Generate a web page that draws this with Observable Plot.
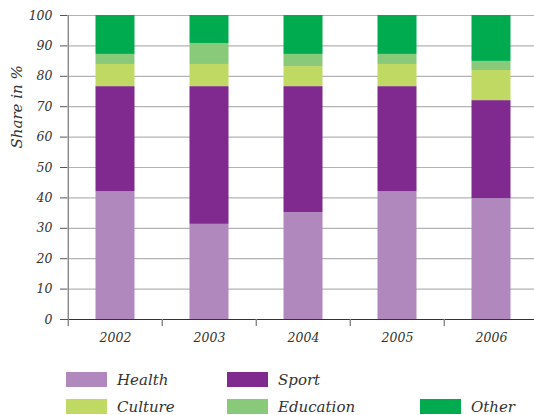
<!DOCTYPE html>
<html>
<head>
<meta charset="utf-8">
<script src="https://cdn.jsdelivr.net/npm/d3@7"></script>
<script src="https://cdn.jsdelivr.net/npm/@observablehq/plot@0.6"></script>
<style>
  html, body { margin: 0; padding: 0; background: #fff; }
  #chart svg { display: block; }
  #legend { position: relative; width: 534px; height: 55px; font-family: "DejaVu Serif", serif; font-style: italic; font-size: 15px; color: #333; }
  .item { position: absolute; display: flex; align-items: center; height: 15px; }
  .sw { width: 41px; height: 15px; margin-right: 10px; }
</style>
</head>
<body>
<div id="chart"></div>
<div id="legend"></div>
<script>
const years = ["2002", "2003", "2004", "2005", "2006"];
const categories = ["Health", "Sport", "Culture", "Education", "Other"];
const colors = ["#b088bd", "#80298f", "#bfd962", "#88c97a", "#00aa4e"];
const health    = [42.1, 31.3, 35.2, 42.1, 39.8];
const sport     = [34.5, 45.3, 41.4, 34.5, 32.2];
const culture   = [7.3, 7.3, 6.6, 7.3, 9.9];
const education = [3.3, 6.9, 4.0, 3.3, 3.0];
const other     = [12.8, 9.2, 12.8, 12.8, 15.1];
const yTicks = [0, 10, 20, 30, 40, 50, 60, 70, 80, 90, 100];

const series = [health, sport, culture, education, other];
const rows = [];
years.forEach((yr, i) => {
  categories.forEach((c, k) => rows.push({year: yr, category: c, value: series[k][i]}));
});

const W = 534, H = 360, ML = 67, MT = 15, MB = 41;
const xRange = [ML, 539];
const step = (xRange[1] - xRange[0]) / years.length;
const font = "DejaVu Serif, serif";

const plot = Plot.plot({
  width: W,
  height: H,
  marginLeft: ML,
  marginRight: 0,
  marginTop: MT,
  marginBottom: MB,
  style: { fontFamily: font, background: "#fff" },
  x: { type: "band", domain: years, range: xRange, padding: 0, label: null },
  y: { domain: [0, 100], label: null },
  color: { domain: categories, range: colors },
  marks: [
    Plot.ruleY(yTicks.filter(d => d > 0), { stroke: "#b3b3b3", strokeWidth: 1.2 }),
    Plot.barY(rows, { x: "year", y: "value", fill: "category", insetLeft: 27.5, insetRight: 27.5 }),
    Plot.ruleY([0], { stroke: "#333", strokeWidth: 1.2 }),
    Plot.ruleX([years[0]], { x: d => d, dx: -step / 2, y1: 100, y2: 0, insetBottom: -7, stroke: "#888", strokeWidth: 1.4 }),
    Plot.ruleX(years.slice(1), { x: d => d, dx: -step / 2, y1: 0, y2: 0, insetBottom: -7, stroke: "#888", strokeWidth: 1.4 }),
    Plot.axisY({ ticks: yTicks, tickSize: 7, tickPadding: 8, stroke: "#555", fontSize: 12.5, fontStyle: "italic", fill: "#333", label: null }),
    Plot.axisX({ tickSize: 0, tickPadding: 14, fontSize: 12.5, fontStyle: "italic", fill: "#333", label: null }),
    Plot.text(["Share in %"], { frameAnchor: "left", dx: -50, dy: -19, rotate: -90, fontSize: 15, fontStyle: "italic", fill: "#333", text: d => d })
  ]
});
document.getElementById("chart").appendChild(plot);

// Legend layout (styling only)
const legendPos = [[66, 12], [227, 12], [66, 39], [227, 39], [420, 39]];
const legend = document.getElementById("legend");
categories.forEach((c, i) => {
  const it = document.createElement("div");
  it.className = "item";
  it.style.left = legendPos[i][0] + "px";
  it.style.top = legendPos[i][1] + "px";
  const sw = document.createElement("div");
  sw.className = "sw";
  sw.style.background = plot.scale("color").apply(c);
  const t = document.createElement("span");
  t.textContent = c;
  it.appendChild(sw);
  it.appendChild(t);
  legend.appendChild(it);
});
</script>
</body>
</html>
